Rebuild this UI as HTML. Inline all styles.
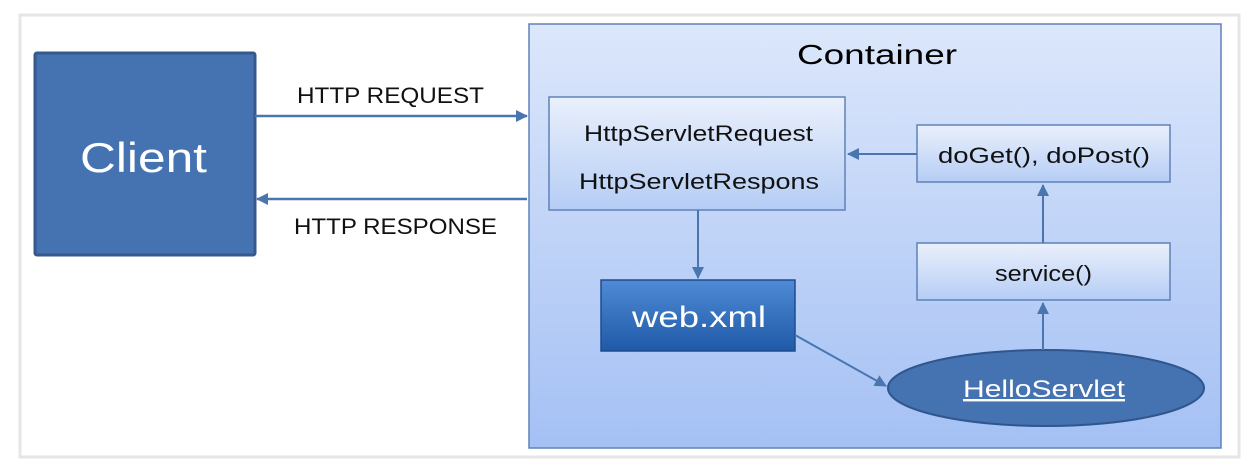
<!DOCTYPE html>
<html><head><meta charset="utf-8"><style>
html,body{margin:0;padding:0;background:#fff;}
svg{display:block}
</style></head><body>
<svg width="1252" height="473" viewBox="0 0 1252 473" xmlns="http://www.w3.org/2000/svg" font-family="Liberation Sans, sans-serif">
<defs>
<linearGradient id="cg" x1="0" y1="0" x2="0" y2="1"><stop offset="0" stop-color="#dce7fb"/><stop offset="1" stop-color="#a4c0f4"/></linearGradient>
<linearGradient id="bg" x1="0" y1="0" x2="0" y2="1"><stop offset="0" stop-color="#eaf0fc"/><stop offset="1" stop-color="#b5cdf5"/></linearGradient>
<linearGradient id="wg" x1="0" y1="0" x2="0" y2="1"><stop offset="0" stop-color="#4f8ad6"/><stop offset="1" stop-color="#1f5aa8"/></linearGradient>
<marker id="a" markerWidth="12" markerHeight="12" refX="11" refY="6" orient="auto" markerUnits="userSpaceOnUse"><path d="M0,0 L12,6 L0,12 z" fill="#4a76b0"/></marker>
</defs>
<rect x="20" y="15" width="1219" height="442" fill="#fff" stroke="#e6e6e6" stroke-width="3"/>
<rect x="35" y="53" width="220" height="202" rx="2" fill="#4572b0" stroke="#36598b" stroke-width="3"/>
<text x="80" y="172" font-size="42" fill="#fff" textLength="127" lengthAdjust="spacingAndGlyphs">Client</text>
<line x1="255" y1="116" x2="527" y2="116" stroke="#4a76b0" stroke-width="2.5" marker-end="url(#a)"/>
<line x1="527" y1="199" x2="257" y2="199" stroke="#4a76b0" stroke-width="2.5" marker-end="url(#a)"/>
<text x="297" y="103" font-size="22" fill="#111" textLength="187" lengthAdjust="spacingAndGlyphs">HTTP REQUEST</text>
<text x="294" y="234" font-size="22" fill="#111" textLength="203" lengthAdjust="spacingAndGlyphs">HTTP RESPONSE</text>
<rect x="529" y="24" width="692" height="424" fill="url(#cg)" stroke="#5f82b8" stroke-width="1.5"/>
<text x="797" y="64" font-size="28" fill="#000" textLength="160" lengthAdjust="spacingAndGlyphs">Container</text>
<rect x="549" y="97" width="296" height="113" fill="url(#bg)" stroke="#5f82b8" stroke-width="1.5"/>
<text x="584" y="141" font-size="22" fill="#111" textLength="229" lengthAdjust="spacingAndGlyphs">HttpServletRequest</text>
<text x="579" y="189" font-size="22" fill="#111" textLength="240" lengthAdjust="spacingAndGlyphs">HttpServletRespons</text>
<rect x="917" y="125" width="253" height="57" fill="url(#bg)" stroke="#5f82b8" stroke-width="1.5"/>
<text x="938" y="163" font-size="22" fill="#111" textLength="212" lengthAdjust="spacingAndGlyphs">doGet(), doPost()</text>
<rect x="917" y="243" width="253" height="57" fill="url(#bg)" stroke="#5f82b8" stroke-width="1.5"/>
<text x="995" y="281" font-size="22" fill="#111" textLength="97" lengthAdjust="spacingAndGlyphs">service()</text>
<rect x="601" y="280" width="194" height="71" fill="url(#wg)" stroke="#1f4c8c" stroke-width="1.5"/>
<text x="632" y="327" font-size="30" fill="#fff" textLength="134" lengthAdjust="spacingAndGlyphs">web.xml</text>
<ellipse cx="1046" cy="388" rx="158" ry="38" fill="#4572b0" stroke="#2f568d" stroke-width="2"/>
<text x="963" y="397" font-size="24" fill="#fff" text-decoration="underline" textLength="162" lengthAdjust="spacingAndGlyphs">HelloServlet</text>
<line x1="917" y1="154" x2="848" y2="154" stroke="#4a76b0" stroke-width="2" marker-end="url(#a)"/>
<line x1="1043" y1="243" x2="1043" y2="185" stroke="#4a76b0" stroke-width="2" marker-end="url(#a)"/>
<line x1="1043" y1="350" x2="1043" y2="303" stroke="#4a76b0" stroke-width="2" marker-end="url(#a)"/>
<line x1="698" y1="210" x2="698" y2="278" stroke="#4a76b0" stroke-width="2" marker-end="url(#a)"/>
<line x1="795" y1="335" x2="886" y2="386" stroke="#4a76b0" stroke-width="2" marker-end="url(#a)"/>
</svg>
</body></html>
